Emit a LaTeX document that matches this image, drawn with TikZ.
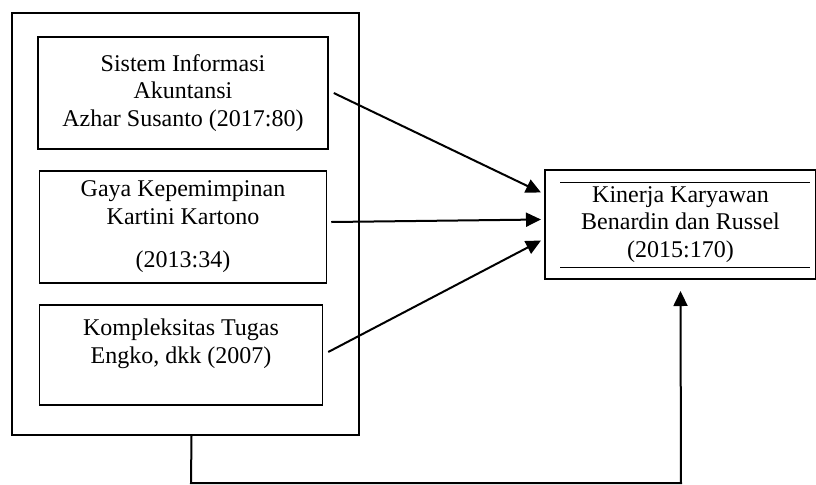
\documentclass[tikz,border=0pt]{standalone}
\usepackage{fontspec}
\setmainfont{Liberation Serif}
\usetikzlibrary{arrows.meta}

\begin{document}
\begin{tikzpicture}[x=0.5pt,y=-0.5pt,->,>={Triangle[length=7.5pt,width=7pt]},line width=1pt,
  var node/.style={rectangle,draw,line width=0.75pt,align=center,font=\fontsize{12}{13.8}\selectfont},
  group node/.style={rectangle,draw,line width=1pt}]
  \useasboundingbox (0,0) rectangle (816,484);

  \node[group node, minimum width=173.5pt, minimum height=211pt] (G) at (185.5,224) {};
  \node[var node, minimum width=145pt, minimum height=56pt] (SIA) at (183,93)
    {Sistem Informasi\\Akuntansi\\Azhar Susanto (2017:80)};
  \node[var node, minimum width=143.5pt, minimum height=56pt] (GK) at (183,227)
    {Gaya Kepemimpinan\\Kartini Kartono\\[8pt](2013:34)};
  \node[var node, minimum width=141.5pt, minimum height=50pt] (KT) at (181,355)
    {Kompleksitas Tugas\\Engko, dkk (2007)\\~};
  \node[var node, line width=1pt, minimum width=135.5pt, minimum height=54.5pt] (KK) at (680.5,224.5)
    {Kinerja Karyawan\\Benardin dan Russel\\(2015:170)};
  \draw[-,line width=0.5pt] (560,182) -- (810,182);
  \draw[-,line width=0.5pt] (560,267) -- (810,267);

  \coordinate (b1) at (191,483);
  \coordinate (b2) at (681,483);

  \path
    ([xshift=2.5pt]SIA.east) edge ([xshift=-1.5pt,yshift=16pt]KK.west)
    ([xshift=2pt,yshift=2.5pt]GK.east) edge ([xshift=-1.5pt,yshift=2.5pt]KK.west)
    ([xshift=2.5pt,yshift=1.5pt]KT.east) edge ([xshift=-1.5pt,yshift=-8pt]KK.west);
  \draw ([xshift=3pt]G.south) -- (b1) -- (b2) -- ([yshift=-5.5pt]KK.south);
\end{tikzpicture}
\end{document}
